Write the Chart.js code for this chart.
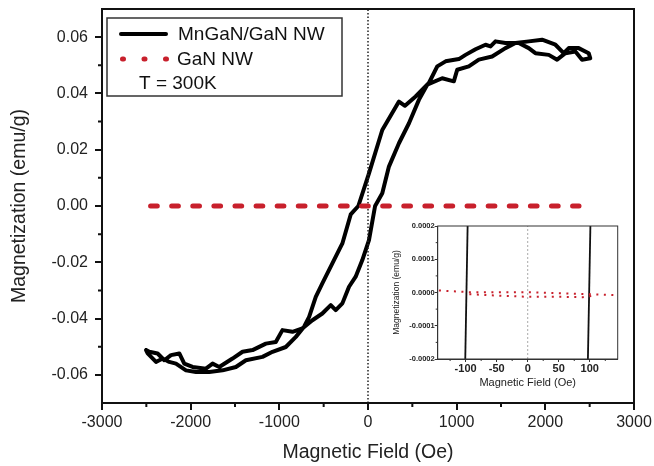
<!DOCTYPE html>
<html>
<head>
<meta charset="utf-8">
<script src="https://cdn.jsdelivr.net/npm/chart.js@4.4.0/dist/chart.umd.min.js"></script>
<style>
  html, body { margin: 0; padding: 0; background: #fff; }
  #wrap { position: relative; width: 654px; height: 466px; }
  #main { position: absolute; left: 0; top: 0; }
  #inset { position: absolute; left: 385px; top: 215px; }
</style>
</head>
<body>
<div id="wrap">
  <canvas id="main" width="654" height="466"></canvas>
  <canvas id="inset" width="245" height="180"></canvas>
</div>
<script>
// MnGaN/GaN NW hysteresis loop, rising branch (-H -> +H)
const upField = [-2503, -2466, -2373, -2297, -2222, -2128, -2072, -1978, -1828, -1753,
                 -1678, -1528, -1415, -1302, -1152, -1040, -965, -852, -740, -627,
                 -515, -420, -364, -289, -214, -139, -64, 11, 80, 161,
                 236, 349, 462, 574, 668, 837, 968, 1006, 1137, 1250,
                 1400, 1550, 1663, 1813, 1963, 2114, 2207, 2264, 2376, 2489];
const upMag = [-0.0512, -0.0518, -0.0524, -0.0548, -0.0530, -0.0524, -0.0560, -0.0572, -0.0578, -0.0560,
               -0.0572, -0.0542, -0.0518, -0.0512, -0.0489, -0.0483, -0.0441, -0.0447, -0.0435, -0.0406,
               -0.0382, -0.0352, -0.0370, -0.0346, -0.0287, -0.0251, -0.0192, -0.0121, 0.0000, 0.0045,
               0.0140, 0.0223, 0.0294, 0.0377, 0.0431, 0.0454, 0.0443, 0.0484, 0.0496, 0.0520,
               0.0531, 0.0561, 0.0579, 0.0585, 0.0591, 0.0573, 0.0543, 0.0561, 0.0561, 0.0543];
// falling branch (+H -> -H)
const downField = [2507, 2414, 2339, 2226, 2133, 2039, 1888, 1813, 1700, 1550,
                   1438, 1382, 1325, 1213, 1100, 1025, 875, 781, 687, 537,
                   417, 349, 161, 11, -109, -195, -289, -402, -515, -589,
                   -664, -721, -814, -927, -1077, -1190, -1377, -1490, -1641, -1791,
                   -1940, -2053, -2166, -2241, -2316, -2391, -2485, -2503];
const downMag = [0.0525, 0.0520, 0.0549, 0.0543, 0.0520, 0.0537, 0.0543, 0.0561, 0.0579, 0.0579,
                 0.0585, 0.0567, 0.0573, 0.0557, 0.0537, 0.0522, 0.0514, 0.0496, 0.0437, 0.0389,
                 0.0356, 0.0371, 0.0270, 0.0116, 0.0000, -0.0030, -0.0133, -0.0204, -0.0275, -0.0323,
                 -0.0394, -0.0429, -0.0465, -0.0501, -0.0518, -0.0536, -0.0548, -0.0572, -0.0584, -0.0590,
                 -0.0590, -0.0584, -0.0560, -0.0554, -0.0542, -0.0554, -0.0524, -0.0512];

// GaN NW (flat on this scale)
const ganField = [-2452, 2380];
const ganMag = [0, 0];

const zeroField = [0, 0];
const zeroMag = [-0.07, 0.07];

const xTicks = [-3000, -2000, -1000, 0, 1000, 2000, 3000];
const xMinor = [-2500, -1500, -500, 500, 1500, 2500];
const yTicks = [-0.06, -0.04, -0.02, 0, 0.02, 0.04, 0.06];
const yMinor = [-0.05, -0.03, -0.01, 0.01, 0.03, 0.05];

// inset (zoom around H = 0)
const insetLeftField = [-100.6, -96.8];
const insetLeftMag = [-0.0002, 0.0002];
const insetRightField = [97, 101];
const insetRightMag = [-0.0002, 0.0002];
const insetGanUpField = [-143, -94, 0, 67, 142];
const insetGanUpMag = [0.000006, 0.000001, 0.000001, -0.000003, -0.000008];
const insetGanLowField = [-94, -51, 0, 56, 89, 105];
const insetGanLowMag = [-0.000005, -0.000009, -0.000013, -0.000013, -0.000014, -0.000010];
const insetXTicks = [-100, -50, 0, 50, 100];
const insetXMinor = [-125, -75, -25, 25, 75, 125];
const insetYTicks = [-0.0002, -0.0001, 0, 0.0001, 0.0002];
const insetYMinor = [-0.00015, -0.00005, 0.00005, 0.00015];

const FONT = "'Liberation Sans', Arial, sans-serif";
const RED = '#c8202c';

function pts(xs, ys) {
  return xs.map((x, i) => ({ x: x, y: ys[i] }));
}

// box around the plot + minor ticks
const frameTicks = {
  id: 'frameTicks',
  afterDraw(chart, args, o) {
    const { ctx, chartArea: a, scales } = chart;
    ctx.save();
    ctx.strokeStyle = o.color;
    ctx.lineWidth = o.width;
    ctx.strokeRect(a.left, a.top, a.right - a.left, a.bottom - a.top);
    ctx.lineWidth = o.tickWidth;
    ctx.beginPath();
    o.xMinor.forEach(v => {
      const px = scales.x.getPixelForValue(v);
      ctx.moveTo(px, a.bottom);
      ctx.lineTo(px, a.bottom + o.minorLen);
    });
    o.yMinor.forEach(v => {
      const py = scales.y.getPixelForValue(v);
      ctx.moveTo(a.left, py);
      ctx.lineTo(a.left - o.minorLen, py);
    });
    ctx.stroke();
    ctx.restore();
  }
};

const boxLegend = {
  id: 'boxLegend',
  afterDraw(chart) {
    const { ctx, chartArea: a } = chart;
    const l = a.left + 5, t = a.top + 9;
    ctx.save();
    ctx.strokeStyle = '#333';
    ctx.lineWidth = 1.5;
    ctx.strokeRect(l, t, 235, 78);

    ctx.lineCap = 'round';
    ctx.strokeStyle = '#000';
    ctx.lineWidth = 4;
    ctx.beginPath();
    ctx.moveTo(l + 14, t + 16);
    ctx.lineTo(l + 59, t + 16);
    ctx.stroke();

    ctx.strokeStyle = RED;
    ctx.lineWidth = 5;
    ctx.setLineDash([1, 20.5]);
    ctx.beginPath();
    ctx.moveTo(l + 15.5, t + 41);
    ctx.lineTo(l + 62, t + 41);
    ctx.stroke();
    ctx.setLineDash([]);

    ctx.fillStyle = '#111';
    ctx.font = '19px ' + FONT;
    ctx.textBaseline = 'middle';
    ctx.fillText('MnGaN/GaN NW', l + 71, t + 17);
    ctx.fillText('GaN NW', l + 70, t + 42);
    ctx.fillText('T = 300K', l + 32, t + 66);
    ctx.restore();
  }
};

function fmt(v, d) {
  return (Math.abs(v) < 1e-12 ? 0 : v).toFixed(d);
}

new Chart(document.getElementById('main'), {
  type: 'scatter',
  data: {
    datasets: [
      {
        label: 'GaN NW',
        data: pts(ganField, ganMag),
        showLine: true,
        borderColor: RED,
        borderWidth: 5,
        borderDash: [6.7, 14.4],
        borderCapStyle: 'round',
        pointRadius: 0
      },
      {
        label: 'zero',
        data: pts(zeroField, zeroMag),
        showLine: true,
        borderColor: '#222',
        borderWidth: 1.5,
        borderDash: [1.5, 2],
        pointRadius: 0
      },
      {
        label: 'MnGaN/GaN NW',
        data: pts(upField.concat(downField), upMag.concat(downMag)),
        showLine: true,
        borderColor: '#000',
        borderWidth: 4,
        borderJoinStyle: 'round',
        borderCapStyle: 'round',
        pointRadius: 0,
        tension: 0
      }
    ]
  },
  options: {
    responsive: false,
    animation: false,
    layout: { padding: { left: 0, top: 9, right: 20, bottom: 0 } },
    plugins: {
      legend: { display: false },
      tooltip: { enabled: false },
      frameTicks: { color: '#111', width: 2, tickWidth: 2, minorLen: 4, xMinor: xMinor, yMinor: yMinor }
    },
    scales: {
      x: {
        type: 'linear',
        min: -3000,
        max: 3000,
        afterBuildTicks: s => { s.ticks = xTicks.map(v => ({ value: v })); },
        afterFit: s => { s.height = 63; s.paddingLeft = 0; s.paddingRight = 0; },
        border: { display: true, color: '#111', width: 2 },
        grid: { drawOnChartArea: false, drawTicks: true, tickLength: 7, color: '#111', lineWidth: 2 },
        ticks: {
          color: '#222',
          padding: 3,
          maxRotation: 0,
          font: { family: FONT, size: 16 },
          callback: v => fmt(v, 0)
        },
        title: {
          display: true,
          text: 'Magnetic Field (Oe)',
          color: '#222',
          font: { family: FONT, size: 19.5 },
          padding: { top: 0, bottom: 2 }
        }
      },
      y: {
        type: 'linear',
        min: -0.07,
        max: 0.07,
        afterBuildTicks: s => { s.ticks = yTicks.map(v => ({ value: v })); },
        afterFit: s => { s.width = 102; s.paddingTop = 0; s.paddingBottom = 0; },
        border: { display: true, color: '#111', width: 2 },
        grid: { drawOnChartArea: false, drawTicks: true, tickLength: 7, color: '#111', lineWidth: 2 },
        ticks: {
          color: '#222',
          padding: 7,
          font: { family: FONT, size: 16 },
          callback: v => fmt(v, 2)
        },
        title: {
          display: true,
          text: 'Magnetization (emu/g)',
          color: '#222',
          font: { family: FONT, size: 19.5 },
          padding: { top: 8, bottom: 0 }
        }
      }
    }
  },
  plugins: [frameTicks, boxLegend]
});

new Chart(document.getElementById('inset'), {
  type: 'scatter',
  data: {
    datasets: [
      {
        label: 'GaN up',
        data: pts(insetGanUpField, insetGanUpMag),
        showLine: true,
        borderColor: RED,
        borderWidth: 2,
        borderDash: [2, 5.5],
        pointRadius: 0
      },
      {
        label: 'GaN low',
        data: pts(insetGanLowField, insetGanLowMag),
        showLine: true,
        borderColor: RED,
        borderWidth: 2,
        borderDash: [2, 5.5],
        pointRadius: 0
      },
      {
        label: 'Mn left',
        data: pts(insetLeftField, insetLeftMag),
        showLine: true,
        borderColor: '#111',
        borderWidth: 1.8,
        pointRadius: 0
      },
      {
        label: 'Mn right',
        data: pts(insetRightField, insetRightMag),
        showLine: true,
        borderColor: '#111',
        borderWidth: 1.8,
        pointRadius: 0
      },
      {
        label: 'zero',
        data: pts([0, 0], [-0.0002, 0.0002]),
        showLine: true,
        borderColor: '#aaa',
        borderWidth: 1,
        borderDash: [2, 2],
        pointRadius: 0
      }
    ]
  },
  options: {
    responsive: false,
    animation: false,
    layout: { padding: { left: 0, top: 11, right: 12.3, bottom: 0 } },
    plugins: {
      legend: { display: false },
      tooltip: { enabled: false },
      frameTicks: { color: '#333', width: 1, tickWidth: 1, minorLen: 2, xMinor: insetXMinor, yMinor: insetYMinor }
    },
    scales: {
      x: {
        type: 'linear',
        min: -145,
        max: 145,
        afterBuildTicks: s => { s.ticks = insetXTicks.map(v => ({ value: v })); },
        afterFit: s => { s.height = 36; s.paddingLeft = 0; s.paddingRight = 0; },
        border: { display: true, color: '#333', width: 1 },
        grid: { drawOnChartArea: false, drawTicks: true, tickLength: 3, color: '#333', lineWidth: 1 },
        ticks: {
          color: '#222',
          padding: 0,
          maxRotation: 0,
          font: { family: FONT, size: 11, weight: 'bold' },
          callback: v => fmt(v, 0)
        },
        title: {
          display: true,
          text: 'Magnetic Field (Oe)',
          color: '#222',
          font: { family: FONT, size: 11 },
          padding: { top: 0, bottom: 5 }
        }
      },
      y: {
        type: 'linear',
        min: -0.0002,
        max: 0.0002,
        afterBuildTicks: s => { s.ticks = insetYTicks.map(v => ({ value: v })); },
        afterFit: s => { s.width = 52.7; s.paddingTop = 0; s.paddingBottom = 0; },
        border: { display: true, color: '#333', width: 1 },
        grid: { drawOnChartArea: false, drawTicks: true, tickLength: 3, color: '#333', lineWidth: 1 },
        ticks: {
          color: '#222',
          padding: 0,
          font: { family: FONT, size: 7.5, weight: 'bold' },
          callback: v => fmt(v, 4)
        },
        title: {
          display: true,
          text: 'Magnetization (emu/g)',
          color: '#222',
          font: { family: FONT, size: 8.5 },
          padding: { top: 7, bottom: 0 }
        }
      }
    }
  },
  plugins: [frameTicks]
});
</script>
</body>
</html>
